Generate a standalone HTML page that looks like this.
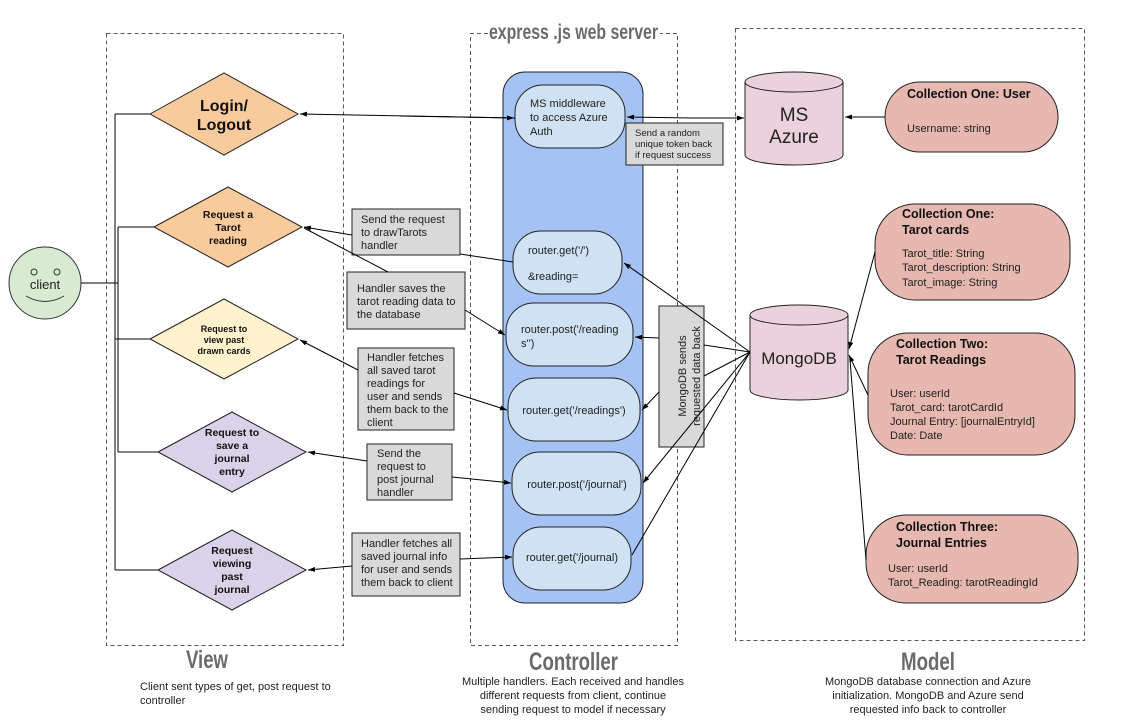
<!DOCTYPE html>
<html><head><meta charset="utf-8"><style>
html,body{margin:0;padding:0;background:#fff;}
svg{display:block;font-family:"Liberation Sans",sans-serif;}
.t{font-size:11px;fill:#222;}
.b{font-weight:bold;}
.h{font-family:"Liberation Sans",sans-serif;font-weight:bold;fill:#6b6b6b;}
</style></head><body>
<svg width="1122" height="726" viewBox="0 0 1122 726" xmlns="http://www.w3.org/2000/svg">
<defs>
<marker id="a" markerWidth="8" markerHeight="8" refX="7" refY="4" orient="auto" markerUnits="userSpaceOnUse">
<path d="M0,1.5 L7,4 L0,6.5 z" fill="#000"/></marker>
</defs>
<!-- dashed containers -->
<g fill="none" stroke="#555" stroke-width="1" stroke-dasharray="4,3">
<rect x="106.5" y="33.5" width="237" height="612"/>
<path d="M488,33.5 H470.5 V645.5 H677.5 V33.5 H660"/>
<rect x="735.5" y="28.5" width="349" height="612"/>
</g>
<rect x="488" y="20" width="172" height="22" fill="#fff"/>
<text x="489" y="39" class="h" font-size="21" textLength="169" lengthAdjust="spacingAndGlyphs">express .js web server</text>

<!-- blue controller -->
<rect x="503" y="72" width="140" height="531" rx="22" fill="#a4c2f4" stroke="#222" stroke-width="1"/>
<g fill="#cfe2f3" stroke="#222" stroke-width="1">
<rect x="515" y="85" width="110" height="63" rx="28"/>
<rect x="513" y="231" width="109" height="63" rx="28"/>
<rect x="506" y="303" width="127" height="63" rx="28"/>
<rect x="508" y="378" width="132" height="63" rx="28"/>
<rect x="512" y="452" width="129" height="63" rx="28"/>
<rect x="513" y="527" width="118" height="63" rx="28"/>
</g>
<text class="t"><tspan x="530" y="107">MS middleware</tspan><tspan x="530" y="121">to access Azure</tspan><tspan x="530" y="135">Auth</tspan></text>
<text class="t"><tspan x="528" y="254">router.get('/')</tspan><tspan x="528" y="280">&amp;reading=</tspan></text>
<text class="t"><tspan x="521" y="333">router.post('/reading</tspan><tspan x="521" y="347">s'')</tspan></text>
<text class="t" x="574" y="414" text-anchor="middle" font-size="10.5">router.get('/readings')</text>
<text class="t" x="577" y="488" text-anchor="middle" font-size="10.5">router.post('/journal')</text>
<text class="t" x="572" y="561" text-anchor="middle" font-size="10.5">router.get('/journal)</text>

<!-- client -->
<circle cx="45" cy="283" r="36" fill="#d9ead3" stroke="#333"/>
<circle cx="34" cy="272" r="3" fill="none" stroke="#333"/>
<circle cx="57" cy="272" r="3" fill="none" stroke="#333"/>
<text x="45" y="289" text-anchor="middle" font-size="13" fill="#222">client</text>
<path d="M26,296 Q45,307 64,296" fill="none" stroke="#333"/>
<g stroke="#000" fill="none" stroke-width="1">
<path d="M81,283 H118"/>
<path d="M115,114 V570"/>
<path d="M118,227 V452"/>
<path d="M115,114 H150 M118,227 H154 M115,339 H150 M118,452 H158 M115,570 H158"/>
</g>

<!-- diamonds -->
<g stroke="#222" stroke-width="1">
<polygon points="150,114 224,73 298,114 224,155" fill="#f9cb9c"/>
<polygon points="154,227 228,187 302,227 228,267" fill="#f9cb9c"/>
<polygon points="150,339 224,299 298,339 224,379" fill="#fff2cc"/>
<polygon points="158,452 232,412 306,452 232,492" fill="#d9d2e9"/>
<polygon points="158,570 232,530 306,570 232,610" fill="#d9d2e9"/>
</g>
<text class="b" font-size="16" text-anchor="middle" fill="#111"><tspan x="224" y="111">Login/</tspan><tspan x="224" y="130">Logout</tspan></text>
<text class="b" font-size="10.5" text-anchor="middle" fill="#111"><tspan x="228" y="218">Request a</tspan><tspan x="228" y="231">Tarot</tspan><tspan x="228" y="244">reading</tspan></text>
<text class="b" font-size="9" text-anchor="middle" fill="#111"><tspan x="224" y="332">Request to</tspan><tspan x="224" y="343">view past</tspan><tspan x="224" y="354">drawn cards</tspan></text>
<text class="b" font-size="10.5" text-anchor="middle" fill="#111"><tspan x="232" y="436">Request to</tspan><tspan x="232" y="449">save a</tspan><tspan x="232" y="462">journal</tspan><tspan x="232" y="475">entry</tspan></text>
<text class="b" font-size="10.5" text-anchor="middle" fill="#111"><tspan x="232" y="554">Request</tspan><tspan x="232" y="567">viewing</tspan><tspan x="232" y="580">past</tspan><tspan x="232" y="593">journal</tspan></text>

<!-- grey notes -->
<g fill="#d9d9d9" stroke="#222" stroke-width="1">
<rect x="352" y="209" width="108" height="46"/>
<rect x="347" y="272" width="118" height="57"/>
<rect x="358" y="348" width="96" height="82"/>
<rect x="367" y="444" width="85" height="56"/>
<rect x="352" y="533" width="108" height="63"/>
<rect x="626" y="123" width="97" height="42"/>
<rect x="659" y="306" width="45" height="141"/>
</g>
<text class="t"><tspan x="361" y="223">Send the request</tspan><tspan x="361" y="236">to drawTarots</tspan><tspan x="361" y="249">handler</tspan></text>
<text class="t"><tspan x="357" y="292">Handler saves the</tspan><tspan x="357" y="305">tarot reading data to</tspan><tspan x="357" y="318">the database</tspan></text>
<text class="t"><tspan x="367" y="361">Handler fetches</tspan><tspan x="367" y="374">all saved tarot</tspan><tspan x="367" y="387">readings for</tspan><tspan x="367" y="400">user and sends</tspan><tspan x="367" y="413">them back to the</tspan><tspan x="367" y="426">client</tspan></text>
<text class="t"><tspan x="377" y="457">Send the</tspan><tspan x="377" y="470">request to</tspan><tspan x="377" y="483">post journal</tspan><tspan x="377" y="496">handler</tspan></text>
<text class="t"><tspan x="361" y="547">Handler fetches all</tspan><tspan x="361" y="560">saved journal info</tspan><tspan x="361" y="573">for user and sends</tspan><tspan x="361" y="586">them back to client</tspan></text>
<text font-size="9.5" fill="#222"><tspan x="635" y="136">Send a random</tspan><tspan x="635" y="147">unique token back</tspan><tspan x="635" y="158">if request success</tspan></text>
<text class="t" font-size="12" transform="translate(686,376) rotate(-90)" text-anchor="middle"><tspan x="0" y="0">MongoDB sends</tspan><tspan x="0" y="14">requested data back</tspan></text>

<!-- cylinders -->
<g stroke="#222" fill="#ead1dc">
<path d="M745,82 V155 A49,10 0 0 0 843,155 V82"/>
<ellipse cx="794" cy="82" rx="49" ry="10"/>
<path d="M750,315 V390 A49,10 0 0 0 848,390 V315"/>
<ellipse cx="799" cy="315" rx="49" ry="10"/>
</g>
<text font-size="19" text-anchor="middle" fill="#222"><tspan x="794" y="121">MS</tspan><tspan x="794" y="143">Azure</tspan></text>
<text font-size="17" x="799" y="364" text-anchor="middle" fill="#222">MongoDB</text>

<!-- collections -->
<g fill="#e6b8af" stroke="#222">
<rect x="885" y="82" width="173" height="70" rx="35"/>
<rect x="875" y="204" width="195" height="96" rx="40"/>
<rect x="868" y="333" width="207" height="122" rx="40"/>
<rect x="866" y="515" width="212" height="88" rx="40"/>
</g>
<text class="b" font-size="12.5" x="907" y="98" fill="#111">Collection One: User</text>
<text class="t" x="907" y="132">Username: string</text>
<text class="b" font-size="12.5" fill="#111"><tspan x="902" y="218">Collection One:</tspan><tspan x="902" y="234">Tarot cards</tspan></text>
<text class="t"><tspan x="902" y="257">Tarot_title: String</tspan><tspan x="902" y="271">Tarot_description: String</tspan><tspan x="902" y="286">Tarot_image: String</tspan></text>
<text class="b" font-size="12.5" fill="#111"><tspan x="896" y="348">Collection Two:</tspan><tspan x="896" y="364">Tarot Readings</tspan></text>
<text class="t"><tspan x="890" y="397">User: userId</tspan><tspan x="890" y="411">Tarot_card: tarotCardId</tspan><tspan x="890" y="425">Journal Entry: [journalEntryId]</tspan><tspan x="890" y="439">Date: Date</tspan></text>
<text class="b" font-size="12.5" fill="#111"><tspan x="896" y="531">Collection Three:</tspan><tspan x="896" y="547">Journal Entries</tspan></text>
<text class="t"><tspan x="888" y="572">User: userId</tspan><tspan x="888" y="586">Tarot_Reading: tarotReadingId</tspan></text>

<!-- connectors -->
<g stroke="#000" fill="none" stroke-width="1">
<path d="M515,118 L300,114" marker-end="url(#a)"/>
<path d="M400,116 L514,118" marker-end="url(#a)"/>
<path d="M690,118 L627,117" marker-end="url(#a)"/>
<path d="M690,118 L744,118" marker-end="url(#a)"/>
<path d="M885,117 L845,117" marker-end="url(#a)"/>
<path d="M352,235 L304,227" marker-end="url(#a)"/>
<path d="M460,254 L513,262"/>
<path d="M388,272 L304,228"/>
<path d="M465,310 L505,335" marker-end="url(#a)"/>
<path d="M358,370 L300,340" marker-end="url(#a)"/>
<path d="M454,393 L507,410" marker-end="url(#a)"/>
<path d="M367,461 L308,452" marker-end="url(#a)"/>
<path d="M452,477 L511,483" marker-end="url(#a)"/>
<path d="M352,566 L308,570" marker-end="url(#a)"/>
<path d="M460,559 L512,557" marker-end="url(#a)"/>
<path d="M750,352 L624,263" marker-end="url(#a)"/>
<path d="M659,338 L635,337" marker-end="url(#a)"/>
<path d="M704,345 L750,352"/>
<path d="M704,376 L750,352"/>
<path d="M659,392 L642,410" marker-end="url(#a)"/>
<path d="M750,352 L643,483" marker-end="url(#a)"/>
<path d="M750,352 L632,555"/>
<path d="M875,252 L849,349" marker-end="url(#a)"/>
<path d="M868,395 L849,355" marker-end="url(#a)"/>
<path d="M866,560 L850,360"/>
</g>

<!-- labels -->
<text class="h" font-size="25" x="186" y="668" textLength="42" lengthAdjust="spacingAndGlyphs">View</text>
<text class="h" font-size="25" x="529" y="670" textLength="89" lengthAdjust="spacingAndGlyphs">Controller</text>
<text class="h" font-size="25" x="901" y="670" textLength="54" lengthAdjust="spacingAndGlyphs">Model</text>
<text class="t"><tspan x="140" y="690">Client sent types of get, post request to</tspan><tspan x="140" y="704">controller</tspan></text>
<text class="t" text-anchor="middle"><tspan x="573" y="685">Multiple handlers. Each received and handles</tspan><tspan x="573" y="699">different requests from client, continue</tspan><tspan x="573" y="713">sending request to model if necessary</tspan></text>
<text class="t" text-anchor="middle"><tspan x="928" y="685">MongoDB database connection and Azure</tspan><tspan x="928" y="699">initialization. MongoDB and Azure send</tspan><tspan x="928" y="713">requested info back to controller</tspan></text>
</svg>
</body></html>
